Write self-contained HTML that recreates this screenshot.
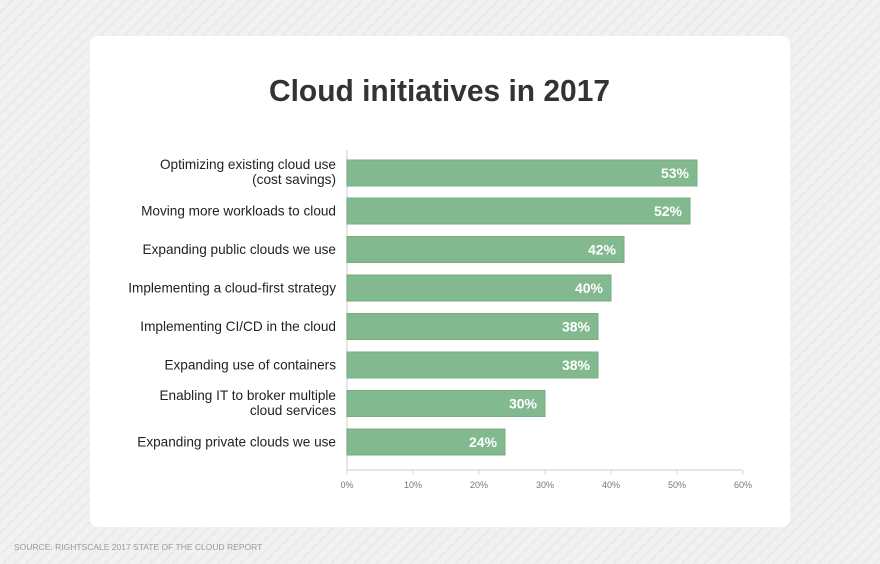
<!DOCTYPE html>
<html><head><style>
html,body{margin:0;padding:0;}
body{width:880px;height:564px;overflow:hidden;background:#f0f0f0;}
svg{display:block;font-family:"Liberation Sans",sans-serif;}
</style></head><body>
<svg width="880" height="564" viewBox="0 0 880 564">
<defs><pattern id="p" width="8" height="8" patternUnits="userSpaceOnUse" patternTransform="rotate(45)"><rect width="8" height="8" fill="#f1f1f1"/><rect width="1.5" height="8" fill="#e8e8e8"/></pattern></defs>
<rect width="880" height="564" fill="url(#p)"/>
<rect x="90" y="36" width="700" height="491" rx="8" fill="#fff"/>
<text x="269" y="101" textLength="341" lengthAdjust="spacingAndGlyphs" font-size="31" font-weight="bold" fill="#333">Cloud initiatives in 2017</text>
<line x1="347" y1="150" x2="347" y2="470" stroke="#ddd" stroke-width="1.5"/>
<line x1="347" y1="470" x2="743" y2="470" stroke="#ddd" stroke-width="1.5"/>
<g stroke="#ddd" stroke-width="1.2">
<line x1="347" y1="470" x2="347" y2="475"/><line x1="413" y1="470" x2="413" y2="475"/><line x1="479" y1="470" x2="479" y2="475"/><line x1="545" y1="470" x2="545" y2="475"/><line x1="611" y1="470" x2="611" y2="475"/><line x1="677" y1="470" x2="677" y2="475"/><line x1="743" y1="470" x2="743" y2="475"/></g>
<g font-size="9" fill="#777" text-anchor="middle">
<text x="347" y="488">0%</text><text x="413" y="488">10%</text><text x="479" y="488">20%</text><text x="545" y="488">30%</text><text x="611" y="488">40%</text><text x="677" y="488">50%</text><text x="743" y="488">60%</text></g>
<g fill="#82b98e" stroke="#76ad82" stroke-width="1">
<rect x="347" y="160" width="350" height="26"/>
<rect x="347" y="198" width="343" height="26"/>
<rect x="347" y="236.5" width="277" height="26"/>
<rect x="347" y="275" width="264" height="26"/>
<rect x="347" y="313.5" width="251" height="26"/>
<rect x="347" y="352" width="251" height="26"/>
<rect x="347" y="390.5" width="198" height="26"/>
<rect x="347" y="429" width="158" height="26"/></g>
<g font-size="14" font-weight="bold" fill="#fff" text-anchor="end">
<text x="689" y="178">53%</text><text x="682" y="216">52%</text><text x="616" y="254.5">42%</text><text x="603" y="293">40%</text><text x="590" y="331.5">38%</text><text x="590" y="370">38%</text><text x="537" y="408.5">30%</text><text x="497" y="447">24%</text></g>
<g font-size="13.6" fill="#222" text-anchor="end">
<text x="336" y="169">Optimizing existing cloud use</text><text x="336" y="184">(cost savings)</text>
<text x="336" y="215.5">Moving more workloads to cloud</text>
<text x="336" y="254">Expanding public clouds we use</text>
<text x="336" y="292.5">Implementing a cloud-first strategy</text>
<text x="336" y="331">Implementing CI/CD in the cloud</text>
<text x="336" y="369.5">Expanding use of containers</text>
<text x="336" y="400">Enabling IT to broker multiple</text><text x="336" y="415">cloud services</text>
<text x="336" y="446.5">Expanding private clouds we use</text></g>
<text x="14" y="550" font-size="8.5" fill="#999">SOURCE: RIGHTSCALE 2017 STATE OF THE CLOUD REPORT</text>
</svg>
</body></html>
